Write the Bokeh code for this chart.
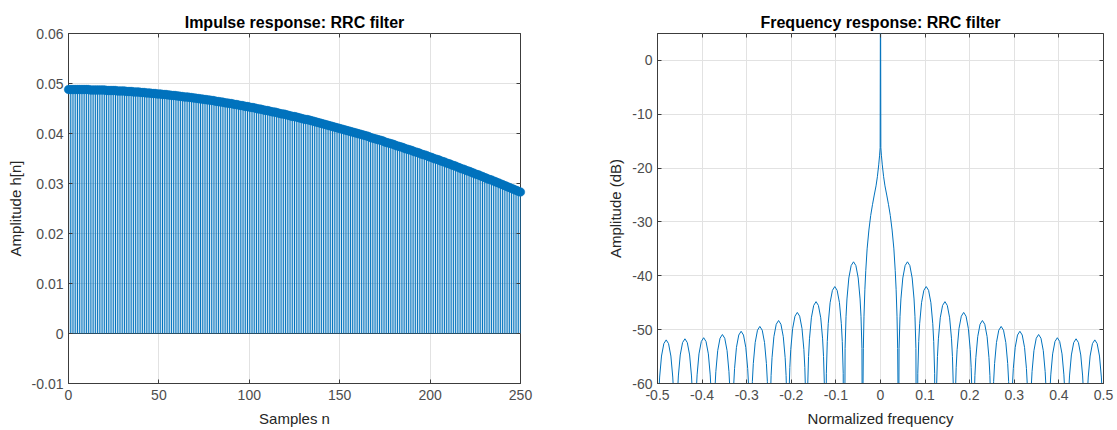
from bokeh.plotting import figure
from bokeh.models import Range1d, FixedTicker, LinearAxis, ColumnDataSource
from bokeh.layouts import row
from bokeh.embed import file_html
from bokeh.resources import INLINE

# ---------------- data: impulse response ----------------
samples_n = list(range(0, 251))
h_n = [
    0.0488, 0.0488, 0.0488, 0.0488, 0.0488, 0.0488, 0.0488, 0.0488, 0.0488, 0.0488,
    0.0488, 0.0488, 0.0487, 0.0487, 0.0487, 0.0487, 0.0487, 0.0487, 0.0487, 0.0487,
    0.0487, 0.0486, 0.0486, 0.0486, 0.0486, 0.0486, 0.0486, 0.0485, 0.0485, 0.0485,
    0.0485, 0.0485, 0.0484, 0.0484, 0.0484, 0.0484, 0.0483, 0.0483, 0.0483, 0.0483,
    0.0482, 0.0482, 0.0482, 0.0481, 0.0481, 0.0481, 0.0480, 0.0480, 0.0480, 0.0479,
    0.0479, 0.0479, 0.0478, 0.0478, 0.0478, 0.0477, 0.0477, 0.0476, 0.0476, 0.0476,
    0.0475, 0.0475, 0.0474, 0.0474, 0.0473, 0.0473, 0.0473, 0.0472, 0.0472, 0.0471,
    0.0471, 0.0470, 0.0470, 0.0469, 0.0469, 0.0468, 0.0468, 0.0467, 0.0467, 0.0466,
    0.0466, 0.0465, 0.0464, 0.0464, 0.0463, 0.0463, 0.0462, 0.0461, 0.0461, 0.0460,
    0.0460, 0.0459, 0.0458, 0.0458, 0.0457, 0.0456, 0.0456, 0.0455, 0.0454, 0.0454,
    0.0453, 0.0452, 0.0452, 0.0451, 0.0450, 0.0449, 0.0449, 0.0448, 0.0447, 0.0446,
    0.0446, 0.0445, 0.0444, 0.0443, 0.0443, 0.0442, 0.0441, 0.0440, 0.0439, 0.0439,
    0.0438, 0.0437, 0.0436, 0.0435, 0.0434, 0.0434, 0.0433, 0.0432, 0.0431, 0.0430,
    0.0429, 0.0428, 0.0428, 0.0427, 0.0426, 0.0425, 0.0424, 0.0423, 0.0422, 0.0421,
    0.0420, 0.0419, 0.0418, 0.0417, 0.0416, 0.0415, 0.0414, 0.0413, 0.0412, 0.0411,
    0.0410, 0.0409, 0.0408, 0.0407, 0.0406, 0.0405, 0.0404, 0.0403, 0.0402, 0.0401,
    0.0400, 0.0399, 0.0398, 0.0397, 0.0396, 0.0395, 0.0394, 0.0392, 0.0391, 0.0390,
    0.0389, 0.0388, 0.0387, 0.0386, 0.0385, 0.0383, 0.0382, 0.0381, 0.0380, 0.0379,
    0.0378, 0.0376, 0.0375, 0.0374, 0.0373, 0.0372, 0.0370, 0.0369, 0.0368, 0.0367,
    0.0366, 0.0364, 0.0363, 0.0362, 0.0361, 0.0359, 0.0358, 0.0357, 0.0356, 0.0354,
    0.0353, 0.0352, 0.0350, 0.0349, 0.0348, 0.0347, 0.0345, 0.0344, 0.0343, 0.0341,
    0.0340, 0.0339, 0.0337, 0.0336, 0.0335, 0.0333, 0.0332, 0.0330, 0.0329, 0.0328,
    0.0326, 0.0325, 0.0324, 0.0322, 0.0321, 0.0319, 0.0318, 0.0317, 0.0315, 0.0314,
    0.0312, 0.0311, 0.0309, 0.0308, 0.0307, 0.0305, 0.0304, 0.0302, 0.0301, 0.0299,
    0.0298, 0.0296, 0.0295, 0.0293, 0.0292, 0.0290, 0.0289, 0.0287, 0.0286, 0.0284,
    0.0283,
]

# ---------------- data: frequency response in dB ----------------
left_freq = [
    -0.5015,
    -0.4994, -0.4973, -0.4952, -0.4910, -0.4858, -0.4805, -0.4752, -0.4700, -0.4658, -0.4637, -0.4616, -0.4595,
    -0.4574, -0.4553, -0.4532, -0.4490, -0.4438, -0.4385, -0.4332, -0.4280, -0.4238, -0.4217, -0.4196, -0.4175,
    -0.4154, -0.4133, -0.4112, -0.4070, -0.4018, -0.3965, -0.3912, -0.3860, -0.3818, -0.3797, -0.3776, -0.3755,
    -0.3734, -0.3713, -0.3692, -0.3650, -0.3598, -0.3545, -0.3492, -0.3440, -0.3398, -0.3377, -0.3356, -0.3335,
    -0.3314, -0.3293, -0.3272, -0.3230, -0.3178, -0.3125, -0.3072, -0.3020, -0.2978, -0.2957, -0.2936, -0.2915,
    -0.2894, -0.2873, -0.2852, -0.2810, -0.2758, -0.2705, -0.2652, -0.2600, -0.2558, -0.2537, -0.2516, -0.2495,
    -0.2474, -0.2453, -0.2432, -0.2390, -0.2338, -0.2285, -0.2232, -0.2180, -0.2138, -0.2117, -0.2096, -0.2075,
    -0.2054, -0.2033, -0.2012, -0.1970, -0.1918, -0.1865, -0.1812, -0.1760, -0.1718, -0.1697, -0.1676, -0.1655,
    -0.1634, -0.1613, -0.1592, -0.1550, -0.1498, -0.1445, -0.1392, -0.1340, -0.1298, -0.1277, -0.1256, -0.1235,
    -0.1214, -0.1193, -0.1172, -0.1130, -0.1078, -0.1025, -0.0972, -0.0920, -0.0878, -0.0857, -0.0836, -0.0815,
    -0.0794, -0.0773, -0.0752, -0.0710, -0.0658, -0.0605, -0.0552, -0.0500, -0.0458, -0.0437, -0.0416, -0.0395,
]
left_db = [
    -100,
    -68.0, -62.1, -58.8, -54.9, -52.6, -51.9, -52.6, -54.9, -58.8, -62.1, -68.0, -100,
    -67.8, -61.9, -58.6, -54.7, -52.4, -51.7, -52.4, -54.7, -58.6, -61.9, -67.8, -100,
    -67.6, -61.7, -58.4, -54.5, -52.2, -51.5, -52.2, -54.5, -58.4, -61.7, -67.6, -100,
    -67.0, -61.1, -57.8, -53.9, -51.6, -50.9, -51.6, -53.9, -57.8, -61.1, -67.0, -100,
    -66.4, -60.5, -57.2, -53.3, -51.0, -50.3, -51.0, -53.3, -57.2, -60.5, -66.4, -100,
    -65.5, -59.6, -56.3, -52.4, -50.1, -49.4, -50.1, -52.4, -56.3, -59.6, -65.5, -100,
    -64.4, -58.5, -55.2, -51.3, -49.0, -48.3, -49.0, -51.3, -55.2, -58.5, -64.4, -100,
    -62.9, -57.0, -53.7, -49.8, -47.5, -46.8, -47.5, -49.8, -53.7, -57.0, -62.9, -100,
    -60.9, -55.0, -51.7, -47.8, -45.5, -44.8, -45.5, -47.8, -51.7, -55.0, -60.9, -100,
    -58.1, -52.2, -48.9, -45.0, -42.7, -42.0, -42.7, -45.0, -48.9, -52.2, -58.1, -100,
    -53.5, -47.6, -44.3, -40.4, -38.1, -37.4, -38.1, -40.4, -44.3, -47.6, -53.5, -100,
]
main_freq = [
    -0.0392, -0.0385, -0.037, -0.035, -0.033, -0.030, -0.026, -0.022, -0.018, -0.014,
    -0.010, -0.007, -0.004, -0.002, -0.0008, 0.0, 0.0008, 0.002, 0.004, 0.007,
    0.010, 0.014, 0.018, 0.022, 0.026, 0.030, 0.033, 0.035, 0.037, 0.0385, 0.0392,
]
main_db = [
    -60.5, -53.5, -47.5, -42.5, -39.0, -35.0, -31.5, -28.8, -26.8, -25.0,
    -23.3, -21.6, -19.4, -17.6, -16.2, 20.0, -16.2, -17.6, -19.4, -21.6,
    -23.3, -25.0, -26.8, -28.8, -31.5, -35.0, -39.0, -42.5, -47.5, -53.5, -60.5,
]
right_freq = [
    0.0395,
    0.0416, 0.0437, 0.0458, 0.0500, 0.0552, 0.0605, 0.0658, 0.0710, 0.0752, 0.0773, 0.0794, 0.0815,
    0.0836, 0.0857, 0.0878, 0.0920, 0.0972, 0.1025, 0.1078, 0.1130, 0.1172, 0.1193, 0.1214, 0.1235,
    0.1256, 0.1277, 0.1298, 0.1340, 0.1392, 0.1445, 0.1498, 0.1550, 0.1592, 0.1613, 0.1634, 0.1655,
    0.1676, 0.1697, 0.1718, 0.1760, 0.1812, 0.1865, 0.1918, 0.1970, 0.2012, 0.2033, 0.2054, 0.2075,
    0.2096, 0.2117, 0.2138, 0.2180, 0.2232, 0.2285, 0.2338, 0.2390, 0.2432, 0.2453, 0.2474, 0.2495,
    0.2516, 0.2537, 0.2558, 0.2600, 0.2652, 0.2705, 0.2758, 0.2810, 0.2852, 0.2873, 0.2894, 0.2915,
    0.2936, 0.2957, 0.2978, 0.3020, 0.3072, 0.3125, 0.3178, 0.3230, 0.3272, 0.3293, 0.3314, 0.3335,
    0.3356, 0.3377, 0.3398, 0.3440, 0.3492, 0.3545, 0.3598, 0.3650, 0.3692, 0.3713, 0.3734, 0.3755,
    0.3776, 0.3797, 0.3818, 0.3860, 0.3912, 0.3965, 0.4018, 0.4070, 0.4112, 0.4133, 0.4154, 0.4175,
    0.4196, 0.4217, 0.4238, 0.4280, 0.4332, 0.4385, 0.4438, 0.4490, 0.4532, 0.4553, 0.4574, 0.4595,
    0.4616, 0.4637, 0.4658, 0.4700, 0.4752, 0.4805, 0.4858, 0.4910, 0.4952, 0.4973, 0.4994, 0.5015,
]
right_db = [
    -100,
    -53.5, -47.6, -44.3, -40.4, -38.1, -37.4, -38.1, -40.4, -44.3, -47.6, -53.5, -100,
    -58.1, -52.2, -48.9, -45.0, -42.7, -42.0, -42.7, -45.0, -48.9, -52.2, -58.1, -100,
    -60.9, -55.0, -51.7, -47.8, -45.5, -44.8, -45.5, -47.8, -51.7, -55.0, -60.9, -100,
    -62.9, -57.0, -53.7, -49.8, -47.5, -46.8, -47.5, -49.8, -53.7, -57.0, -62.9, -100,
    -64.4, -58.5, -55.2, -51.3, -49.0, -48.3, -49.0, -51.3, -55.2, -58.5, -64.4, -100,
    -65.5, -59.6, -56.3, -52.4, -50.1, -49.4, -50.1, -52.4, -56.3, -59.6, -65.5, -100,
    -66.4, -60.5, -57.2, -53.3, -51.0, -50.3, -51.0, -53.3, -57.2, -60.5, -66.4, -100,
    -67.0, -61.1, -57.8, -53.9, -51.6, -50.9, -51.6, -53.9, -57.8, -61.1, -67.0, -100,
    -67.6, -61.7, -58.4, -54.5, -52.2, -51.5, -52.2, -54.5, -58.4, -61.7, -67.6, -100,
    -67.8, -61.9, -58.6, -54.7, -52.4, -51.7, -52.4, -54.7, -58.6, -61.9, -67.8, -100,
    -68.0, -62.1, -58.8, -54.9, -52.6, -51.9, -52.6, -54.9, -58.8, -62.1, -68.0, -100,
]

# ---------------- ticks / labels ----------------
imp_xticks = [0, 50, 100, 150, 200, 250]
imp_xlabels = ["0", "50", "100", "150", "200", "250"]
imp_yticks = [-0.01, 0, 0.01, 0.02, 0.03, 0.04, 0.05, 0.06]
imp_ylabels = ["-0.01", "0", "0.01", "0.02", "0.03", "0.04", "0.05", "0.06"]
frq_xticks = [-0.5, -0.4, -0.3, -0.2, -0.1, 0, 0.1, 0.2, 0.3, 0.4, 0.5]
frq_xlabels = ["-0.5", "-0.4", "-0.3", "-0.2", "-0.1", "0", "0.1", "0.2", "0.3", "0.4", "0.5"]
frq_yticks = [-60, -50, -40, -30, -20, -10, 0]
frq_ylabels = ["-60", "-50", "-40", "-30", "-20", "-10", "0"]

FONT = "Liberation Sans"
BLUE = "#0072BD"
AXC = "#3c3c3c"
TICKC = "#4d4d4d"
GRIDC = "#e2e2e2"


def style(p, xticks, xlabels, yticks, ylabels, xlabel, ylabel):
    p.outline_line_color = AXC
    p.outline_line_width = 1
    p.title.text_font = FONT
    p.title.text_font_size = "16px"
    p.title.text_font_style = "bold"
    p.title.text_color = "#000000"
    p.title.align = "center"
    p.title.standoff = 6
    for ax, ticks, labels, lab in ((p.xaxis[0], xticks, xlabels, xlabel),
                                   (p.yaxis[0], yticks, ylabels, ylabel)):
        ax.ticker = FixedTicker(ticks=ticks)
        ax.major_label_overrides = {t: l for t, l in zip(ticks, labels)}
        ax.major_tick_in = 4
        ax.major_tick_out = 0
        ax.minor_tick_line_color = None
        ax.major_tick_line_color = AXC
        ax.axis_line_color = AXC
        ax.major_label_text_font = FONT
        ax.major_label_text_font_size = "14px"
        ax.major_label_text_color = TICKC
        ax.axis_label = lab
        ax.axis_label_text_font = FONT
        ax.axis_label_text_font_size = "15px"
        ax.axis_label_text_font_style = "normal"
        ax.axis_label_text_color = "#262626"
    p.xaxis[0].major_label_standoff = 6
    p.yaxis[0].major_label_standoff = 5
    p.xaxis[0].axis_label_standoff = 7
    p.yaxis[0].axis_label_standoff = 5
    # inward ticks on the opposite sides (MATLAB box), drawn as unlabeled minor ticks
    for loc, ticks in (("above", xticks), ("right", yticks)):
        ax = LinearAxis(ticker=FixedTicker(ticks=[], minor_ticks=ticks),
                        major_tick_line_color=None, major_tick_in=0, major_tick_out=0,
                        minor_tick_in=4, minor_tick_out=0, minor_tick_line_color=AXC,
                        axis_line_color=None, major_label_standoff=0)
        p.add_layout(ax, loc)
    p.xgrid.ticker = FixedTicker(ticks=xticks)
    p.ygrid.ticker = FixedTicker(ticks=yticks)
    p.xgrid.grid_line_color = GRIDC
    p.ygrid.grid_line_color = GRIDC
    p.background_fill_color = "white"
    p.border_fill_color = "white"


# ---------------- left: impulse response ----------------
p1 = figure(width=540, height=430, output_backend="svg", toolbar_location=None,
            x_range=Range1d(0, 250), y_range=Range1d(-0.01, 0.06),
            title="Impulse response: RRC filter",
            min_border_left=68, min_border_right=20, min_border_top=33, min_border_bottom=47)
style(p1, imp_xticks, imp_xlabels, imp_yticks, imp_ylabels, "Samples n", "Amplitude h[n]")

src1 = ColumnDataSource(dict(n=samples_n, h=h_n, z=[0.0] * len(samples_n)))
p1.segment(x0="n", y0="z", x1="n", y1="h", source=src1, line_color=BLUE, line_width=1)
p1.line(x=[samples_n[0], samples_n[-1]], y=[0, 0], line_color="#2a4f66", line_width=1)
p1.scatter(x="n", y="h", source=src1, size=8.5, fill_color=BLUE, line_color=BLUE,
           line_width=0.5, level="overlay")

# ---------------- right: frequency response ----------------
p2 = figure(width=577, height=430, output_backend="svg", toolbar_location=None,
            x_range=Range1d(-0.5, 0.5), y_range=Range1d(-60, 5),
            title="Frequency response: RRC filter",
            min_border_left=117, min_border_right=14, min_border_top=33, min_border_bottom=47)
style(p2, frq_xticks, frq_xlabels, frq_yticks, frq_ylabels, "Normalized frequency", "Amplitude (dB)")

freq = left_freq + main_freq + right_freq
db = left_db + main_db + right_db
p2.line(x=freq, y=db, line_color=BLUE, line_width=1)

layout = row(p1, p2)
open("out.html", "w").write(file_html(layout, INLINE))
